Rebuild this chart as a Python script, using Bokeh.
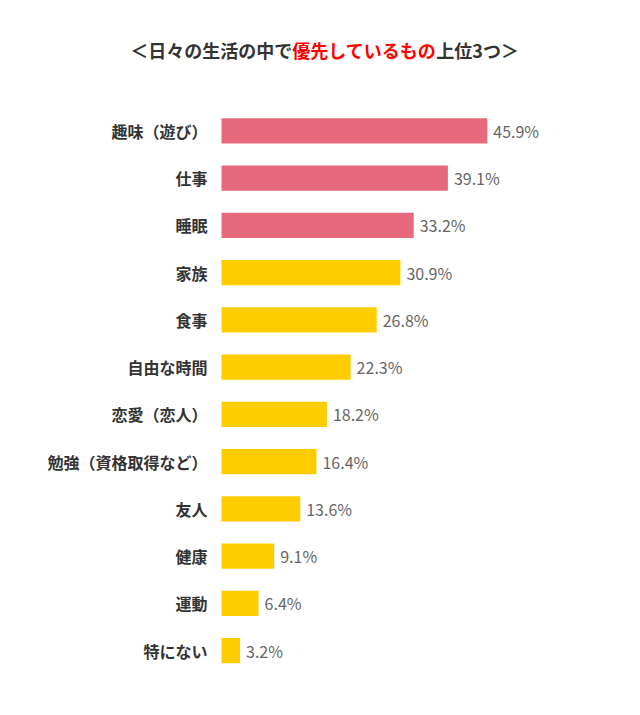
from bokeh.plotting import figure
from bokeh.models import ColumnDataSource, Range1d, Label
from bokeh.core.properties import value
from bokeh.embed import file_html
from bokeh.resources import INLINE

# ---- data ----
categories = ["趣味（遊び）", "仕事", "睡眠", "家族", "食事", "自由な時間",
              "恋愛（恋人）", "勉強（資格取得など）", "友人", "健康", "運動", "特にない"]
values = [45.9, 39.1, 33.2, 30.9, 26.8, 22.3, 18.2, 16.4, 13.6, 9.1, 6.4, 3.2]
title_parts = ["＜日々の生活の中で", "優先しているもの", "上位3つ＞"]
highlight_top = 3

# ---- style ----
FONT = "Noto Sans CJK JP"
PINK = "#E66A7C"
YELLOW = "#FFCC00"
W, H = 624, 699
LEFT = 221          # x pixel of value 0
PX_PER_UNIT = 5.79  # px per percent
ROW = 47.26         # px per category row
FIRST = 130.3       # y pixel of first row center (from top)

idx = list(range(len(categories)))
colors = [PINK if i < highlight_top else YELLOW for i in idx]
labels = [f"{v}%" for v in values]

src = ColumnDataSource(dict(y=idx, v=values, cat=categories, color=colors, lab=labels))

p = figure(width=W, height=H, output_backend="svg", toolbar_location=None,
           min_border_left=0, min_border_right=0, min_border_top=0, min_border_bottom=0,
           x_range=Range1d(-LEFT / PX_PER_UNIT, (W - LEFT) / PX_PER_UNIT),
           y_range=Range1d((H - FIRST) / ROW, -FIRST / ROW))
p.axis.visible = False
p.grid.visible = False
p.outline_line_color = None
p.background_fill_color = "white"
p.border_fill_color = "white"

p.hbar(y="y", left=0, right="v", height=0.535, color="color", line_color=None, source=src)

p.text(x=0, y="y", text="cat", source=src, x_offset=-14, text_align="right",
       text_baseline="middle", text_font=value(FONT), text_font_size="16px",
       text_font_style="bold", text_color="#333333")

p.text(x="v", y="y", text="lab", source=src, x_offset=6, text_align="left",
       text_baseline="middle", text_font=value(FONT), text_font_size="16px",
       text_color="#666666")

# title (three pieces, middle one red)
TS = 18
ty = H - 49.3
cx = 363.8
half = len(title_parts[1]) * TS / 2
p.add_layout(Label(x=cx - half, y=ty, x_units="screen", y_units="screen", text=title_parts[0],
                   text_align="right", text_baseline="middle", text_font=FONT,
                   text_font_size=f"{TS}px", text_font_style="bold", text_color="#333333"))
p.add_layout(Label(x=cx, y=ty, x_units="screen", y_units="screen", text=title_parts[1],
                   text_align="center", text_baseline="middle", text_font=FONT,
                   text_font_size=f"{TS}px", text_font_style="bold", text_color="#FF0000"))
p.add_layout(Label(x=cx + half, y=ty, x_units="screen", y_units="screen", text=title_parts[2],
                   text_align="left", text_baseline="middle", text_font=FONT,
                   text_font_size=f"{TS}px", text_font_style="bold", text_color="#333333"))

open("out.html", "w").write(file_html(p, INLINE))
